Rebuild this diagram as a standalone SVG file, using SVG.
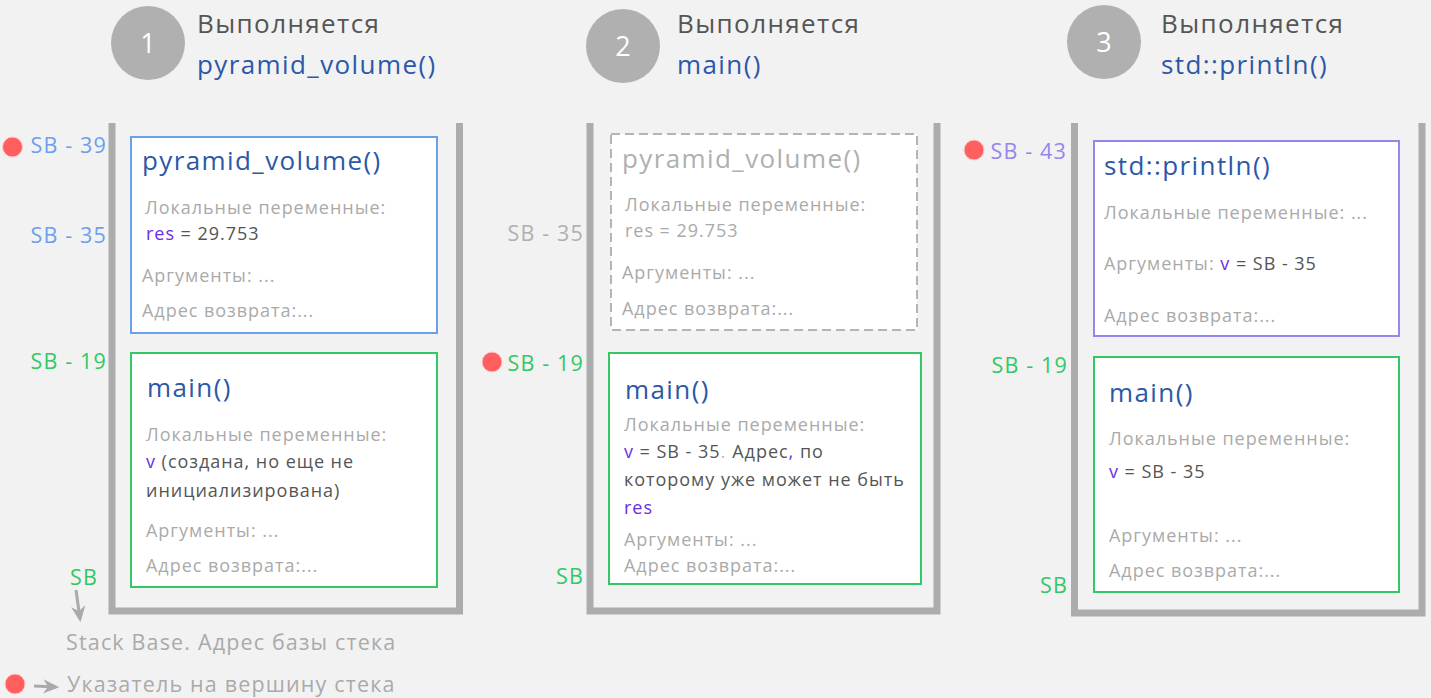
<svg xmlns="http://www.w3.org/2000/svg" width="1431" height="698" viewBox="0 0 1431 698">
<defs>
<style>
text{font-family:"Open Sans","Noto Sans","DejaVu Sans",sans-serif;letter-spacing:0.054em}
.bg{fill:#f2f2f2}
.wall{fill:none;stroke:#acacac;stroke-width:7}
.num{fill:#b0b0b0}
.numt{fill:#ffffff;font-size:27px;text-anchor:middle;letter-spacing:0}
.hd{fill:#555555;font-size:26px}
.hf{fill:#2b58a8;font-size:26px}
.box{fill:#ffffff;stroke-width:2}
.bl{stroke:#6aa0ec}
.gr{stroke:#33c865}
.pu{stroke:#9486ee}
.ds{stroke:#b4b4b4;stroke-dasharray:9 5}
.ft{fill:#2b58a8;font-size:26px}
.ftg{fill:#b0b0b0;font-size:26px}
.lb{fill:#aaaaaa;font-size:18px}
.vl{fill:#555555;font-size:18px}
.vr{fill:#6a2ee0}
.sbb{fill:#6aa0ec;font-size:21.5px;text-anchor:end}
.sbg{fill:#33c865;font-size:21.5px;text-anchor:end}
.sbp{fill:#9486ee;font-size:21.5px;text-anchor:end}
.sbx{fill:#b0b0b0;font-size:21.5px;text-anchor:end}
.dot{fill:#ff5f5f;stroke:#ffc8c8;stroke-width:1}
.lg{fill:#aaaaaa;font-size:21.5px}
.arr{fill:none;stroke:#aaaaaa;stroke-width:3}
</style>
<marker id="ah" viewBox="0 0 10 10" refX="8" refY="5" markerWidth="16" markerHeight="16" markerUnits="userSpaceOnUse" orient="auto"><path d="M0,0.5 L10,5 L0,9.5 L3,5 z" fill="#aaaaaa"/></marker>
</defs>
<rect class="bg" x="0" y="0" width="1431" height="698"/>

<g id="header1">
<circle class="num" cx="148" cy="43" r="37"/>
<text class="numt" x="148" y="53">1</text>
<text class="hd" x="197" y="33">Выполняется</text>
<text class="hf" x="197" y="74">pyramid_volume()</text>
</g>
<g id="header2">
<circle class="num" cx="623" cy="46" r="37"/>
<text class="numt" x="623" y="56">2</text>
<text class="hd" x="677" y="33">Выполняется</text>
<text class="hf" x="677" y="74">main()</text>
</g>
<g id="header3">
<circle class="num" cx="1104" cy="42" r="37"/>
<text class="numt" x="1104" y="52">3</text>
<text class="hd" x="1161" y="33">Выполняется</text>
<text class="hf" x="1161" y="74">std::println()</text>
</g>

<g id="stack1">
<path class="wall" d="M112 123 V611 H459.5 V123"/>
</g>
<g id="s1-pyramid">
<rect class="box bl" x="131" y="137" width="306" height="196"/>
<text class="ft" x="142" y="170">pyramid_volume()</text>
<text class="lb" x="145" y="214">Локальные переменные:</text>
<text class="vl" x="146" y="240"><tspan class="vr">res</tspan> = 29.753</text>
<text class="lb" x="142" y="282">Аргументы: ...</text>
<text class="lb" x="142" y="317">Адрес возврата:...</text>
</g>
<g id="s1-main">
<rect class="box gr" x="131" y="353" width="306" height="234"/>
<text class="ft" x="147" y="397">main()</text>
<text class="lb" x="146" y="441">Локальные переменные:</text>
<text class="vl" x="146" y="468"><tspan class="vr">v</tspan> (создана, но еще не</text>
<text class="vl" x="146" y="497">инициализирована)</text>
<text class="lb" x="146" y="537">Аргументы: ...</text>
<text class="lb" x="146" y="572">Адрес возврата:...</text>
</g>
<g id="s1-labels">
<circle class="dot" cx="12.5" cy="147" r="10"/>
<text class="sbb" x="107" y="153">SB - 39</text>
<text class="sbb" x="107" y="243">SB - 35</text>
<text class="sbg" x="107" y="369">SB - 19</text>
<text class="sbg" x="98" y="585">SB</text>
</g>

<g id="stack2">
<path class="wall" d="M590 123 V611 H937 V123"/>
</g>
<g id="s2-pyramid">
<rect class="box ds" x="611" y="134" width="306" height="196"/>
<text class="ftg" x="622" y="168">pyramid_volume()</text>
<text class="lb" x="625" y="211">Локальные переменные:</text>
<text class="lb" x="625" y="237">res = 29.753</text>
<text class="lb" x="622" y="279">Аргументы: ...</text>
<text class="lb" x="622" y="315">Адрес возврата:...</text>
</g>
<g id="s2-main">
<rect class="box gr" x="609" y="353" width="312" height="231"/>
<text class="ft" x="625" y="399">main()</text>
<text class="lb" x="624" y="431">Локальные переменные:</text>
<text class="vl" x="624" y="458"><tspan class="vr">v</tspan> = SB - 35<tspan fill="#bbbbbb">.</tspan><tspan dx="6">Адрес</tspan><tspan class="vr">,</tspan> по</text>
<text class="vl" x="624" y="486">которому уже может не быть</text>
<text class="vl" x="624" y="514"><tspan class="vr">res</tspan></text>
<text class="lb" x="624" y="546">Аргументы: ...</text>
<text class="lb" x="624" y="572">Адрес возврата:...</text>
</g>
<g id="s2-labels">
<text class="sbx" x="584" y="241">SB - 35</text>
<circle class="dot" cx="492" cy="362" r="10"/>
<text class="sbg" x="584" y="371">SB - 19</text>
<text class="sbg" x="584" y="584">SB</text>
</g>

<g id="stack3">
<path class="wall" d="M1074.5 123 V613 H1422 V123"/>
</g>
<g id="s3-println">
<rect class="box pu" x="1094" y="141" width="305" height="195"/>
<text class="ft" x="1104" y="175">std::println()</text>
<text class="lb" x="1104" y="219">Локальные переменные: ...</text>
<text class="lb" x="1104" y="270">Аргументы: <tspan class="vr">v</tspan><tspan fill="#555555"> = SB - 35</tspan></text>
<text class="lb" x="1104" y="322">Адрес возврата:...</text>
</g>
<g id="s3-main">
<rect class="box gr" x="1094" y="357" width="305" height="235"/>
<text class="ft" x="1109" y="402">main()</text>
<text class="lb" x="1109" y="445">Локальные переменные:</text>
<text class="vl" x="1109" y="478"><tspan class="vr">v</tspan> = SB - 35</text>
<text class="lb" x="1109" y="542">Аргументы: ...</text>
<text class="lb" x="1109" y="577">Адрес возврата:...</text>
</g>
<g id="s3-labels">
<circle class="dot" cx="974" cy="150" r="10"/>
<text class="sbp" x="1067" y="159">SB - 43</text>
<text class="sbg" x="1068" y="373">SB - 19</text>
<text class="sbg" x="1068" y="593">SB</text>
</g>

<g id="connectors">
<path class="arr" d="M76 590 L80 619" marker-end="url(#ah)"/>
<path class="arr" d="M34 686 L56 687" marker-end="url(#ah)"/>
</g>
<g id="legend">
<text class="lg" x="66" y="650">Stack Base. Адрес базы стека</text>
<circle class="dot" cx="15" cy="684" r="10"/>
<text class="lg" x="67" y="692">Указатель на вершину стека</text>
</g>
</svg>
